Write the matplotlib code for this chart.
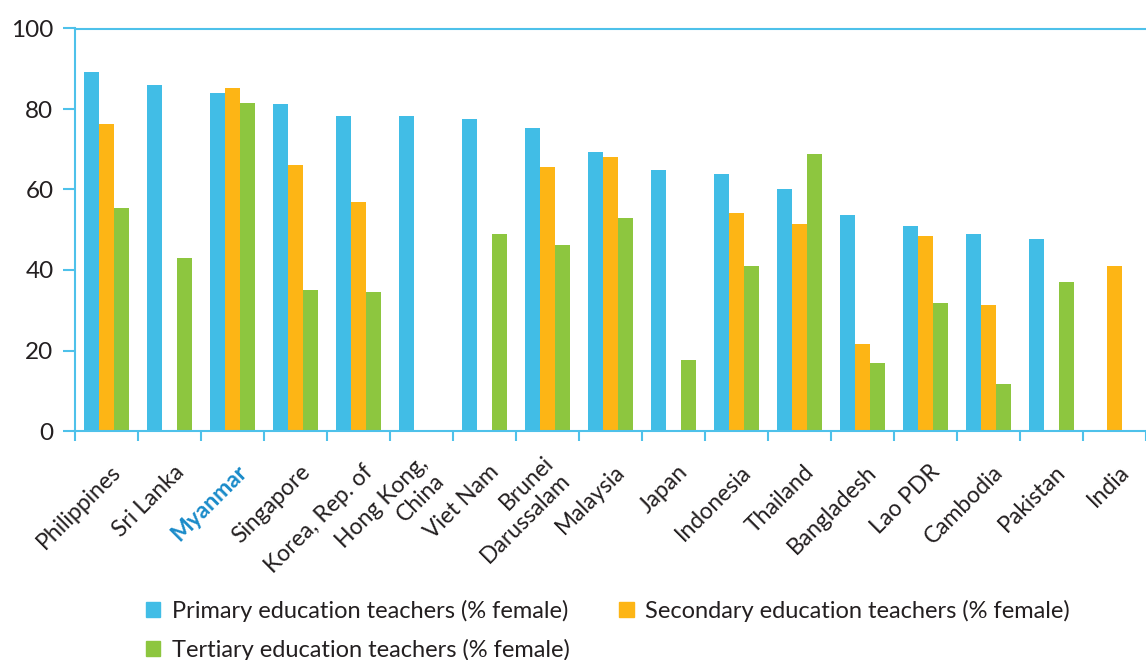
import numpy as np
import matplotlib
matplotlib.use("Agg")
import matplotlib.pyplot as plt
import matplotlib.transforms as mtransforms
from matplotlib.patches import Patch

# ---------- data ----------
countries = ["Philippines", "Sri Lanka", "Myanmar", "Singapore", "Korea, Rep. of",
             "Hong Kong,\nChina", "Viet Nam", "Brunei\nDarussalam", "Malaysia", "Japan",
             "Indonesia", "Thailand", "Bangladesh", "Lao PDR", "Cambodia", "Pakistan", "India"]
primary = [89.2, 85.9, 83.9, 81.2, 78.2, 78.2, 77.5, 75.2, 69.3, 64.8,
           63.8, 60.1, 53.6, 50.9, 48.9, 47.7, np.nan]
secondary = [76.2, np.nan, 85.2, 66.1, 56.9, np.nan, np.nan, 65.6, 68.0, np.nan,
             54.1, 51.4, 21.6, 48.4, 31.3, np.nan, 41.0]
tertiary = [55.4, 43.0, 81.5, 35.0, 34.5, np.nan, 48.9, 46.2, 52.9, 17.6,
            41.0, 68.8, 16.9, 31.8, 11.7, 37.0, np.nan]
series_labels = ["Primary education teachers (% female)",
                 "Secondary education teachers (% female)",
                 "Tertiary education teachers (% female)"]
highlight = "Myanmar"

# ---------- style ----------
BLUE = "#41BDE6"
ORANGE = "#FDB515"
GREEN = "#8DC63F"
AXIS = "#4EC1EA"
TEXT = "#231F20"
HL = "#1A8BC9"

plt.rcParams["font.family"] = ["Lato", "DejaVu Sans"]

fig = plt.figure(figsize=(11.46, 6.6), dpi=100)
ax = fig.add_axes([75 / 1146, 1 - 431 / 660, 1 - 75 / 1146, (431 - 28.5) / 660])

x = np.arange(len(countries))
w = 0.235
ax.bar(x - w, primary, w, color=BLUE, linewidth=0)
ax.bar(x, secondary, w, color=ORANGE, linewidth=0)
ax.bar(x + w, tertiary, w, color=GREEN, linewidth=0)

ax.set_ylim(0, 100)
ax.set_xlim(-0.5, 16.29)

# spines
for s in ["left", "top", "bottom"]:
    ax.spines[s].set_color(AXIS)
    ax.spines[s].set_linewidth(1.5)
ax.spines["right"].set_visible(False)

# y axis
ax.set_yticks(range(0, 101, 20))
ax.tick_params(axis="y", length=8.5, width=1.5, color=AXIS, pad=7,
               labelsize=17.5, labelcolor=TEXT)

# x axis: ticks on category boundaries, labels on centers
ax.set_xticks(np.arange(-0.5, len(countries), 1.0))
ax.set_xticklabels([])
ax.set_xticks(x, minor=True)
ax.set_xticklabels(countries, minor=True)
ax.tick_params(axis="x", which="major", length=7, width=1.5, color=AXIS)
ax.tick_params(axis="x", which="minor", length=0, pad=27, labelsize=16.5, labelcolor=TEXT)

offset = mtransforms.ScaledTranslation(8 / 72, 0, fig.dpi_scale_trans)
for lbl in ax.get_xticklabels(minor=True):
    lbl.set_rotation(45)
    lbl.set_rotation_mode("anchor")
    lbl.set_ha("right")
    lbl.set_va("center")
    lbl.set_multialignment("right")
    lbl.set_transform(lbl.get_transform() + offset)
    if lbl.get_text() == highlight:
        lbl.set_color(HL)
        lbl.set_fontweight("bold")

# legend: column-first fill, so order Primary, Tertiary | Secondary
handles = [Patch(color=BLUE), Patch(color=GREEN), Patch(color=ORANGE)]
labels = [series_labels[0], series_labels[2], series_labels[1]]
fig.legend(handles, labels, loc="upper left", bbox_to_anchor=(146 / 1146, 1 - 600 / 660),
           ncol=2, frameon=False, fontsize=17, handlelength=0.6, handleheight=0.6,
           handletextpad=0.5, columnspacing=2.1, labelspacing=0.7,
           borderpad=0, borderaxespad=0, labelcolor=TEXT)

fig.savefig("out.png", dpi=100)
